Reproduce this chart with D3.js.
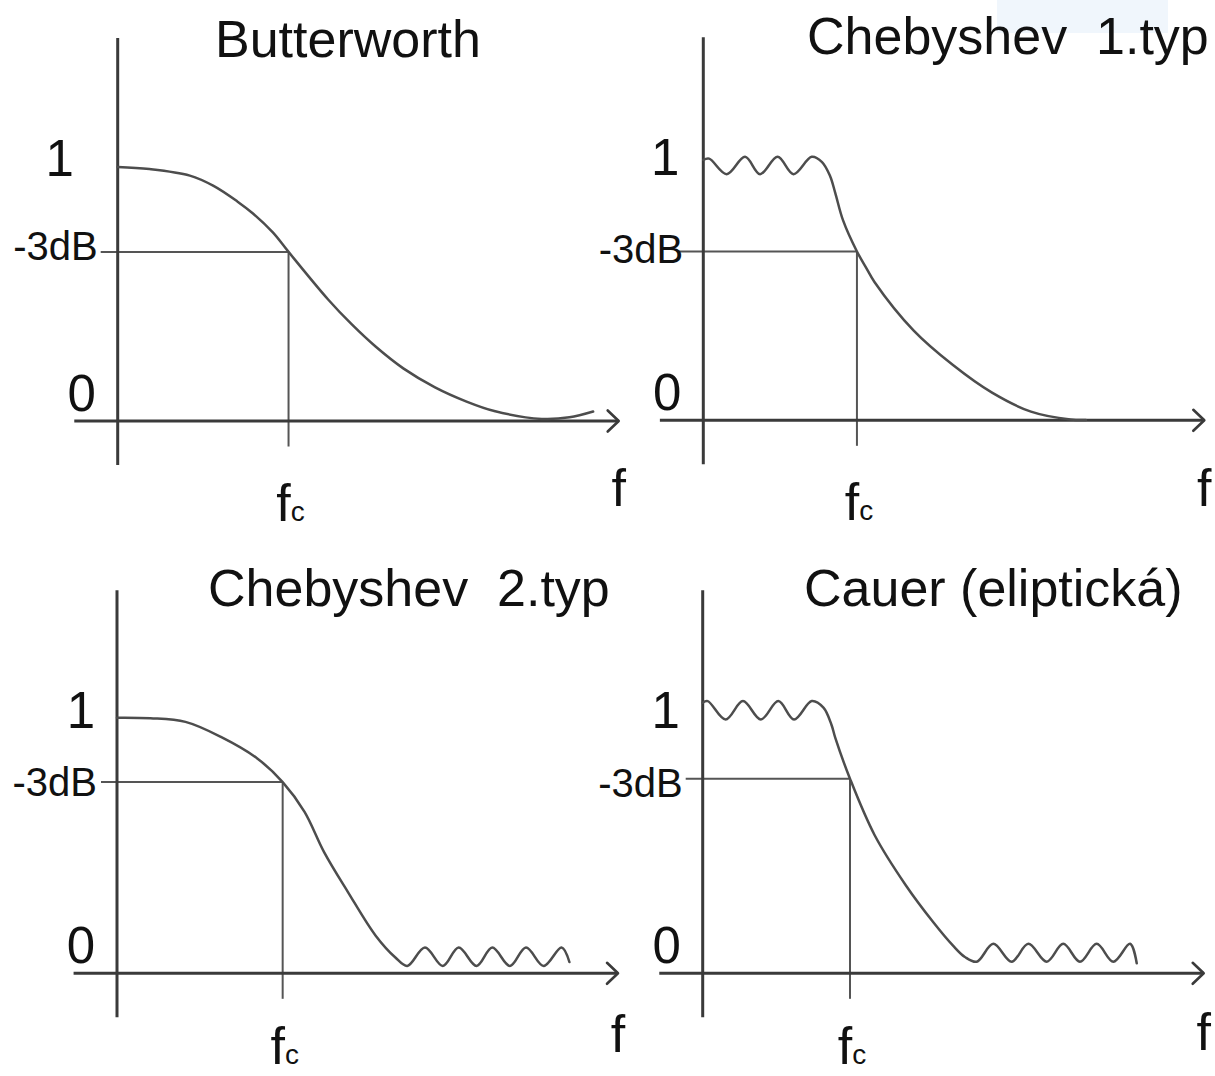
<!DOCTYPE html>
<html>
<head>
<meta charset="utf-8">
<script src="https://cdn.jsdelivr.net/npm/d3@7"></script>
<style>
  html, body { margin: 0; padding: 0; background: #fff; }
  svg { display: block; font-family: "Liberation Sans", Arial, sans-serif; }
</style>
</head>
<body>
<svg id="chart" width="1215" height="1076"></svg>
<script>
// Magnitude responses of four low-pass filter prototypes.
// f = normalised frequency, g = relative magnitude (1 = pass-band level).

const panelTitles = ["Butterworth", "Chebyshev  1.typ", "Chebyshev  2.typ", "Cauer (eliptická)"];
const levelLabels = ["1", "-3dB", "0"];
const freqAxisLabel = "f";
const cutoffLabel = ["f", "c"];

// cut-off frequency and -3 dB level of each panel
const cutoffFreq = [1.023, 0.920, 0.992, 0.882];
const halfPowerLevel = [0.643, 0.642, 0.727, 0.740];

const butterworthF = [0, 0.19, 0.432, 0.574, 0.716, 0.81, 0.929, 1.023, 1.26, 1.402, 1.544, 1.71, 1.9, 2.089, 2.255, 2.539, 2.705, 2.847];
const butterworthG = [0.966, 0.958, 0.933, 0.894, 0.835, 0.789, 0.717, 0.643, 0.462, 0.367, 0.283, 0.200, 0.128, 0.074, 0.038, 0.008, 0.014, 0.036];

const cheby1F = [0, 0.035, 0.14, 0.25, 0.34, 0.445, 0.54, 0.649, 0.711, 0.759, 0.790, 0.837, 0.920, 0.978, 1.025, 1.26, 1.495, 1.729, 1.962, 2.199, 2.291];
const cheby1G = [0.99, 0.995, 0.936, 1.002, 0.936, 1.002, 0.936, 1.002, 0.982, 0.929, 0.865, 0.760, 0.642, 0.577, 0.526, 0.341, 0.210, 0.105, 0.033, 0.003, 0.001];

const cheby2F = [0, 0.2, 0.41, 0.625, 0.838, 0.992, 1.123, 1.24, 1.383, 1.549, 1.667, 1.738, 1.844, 1.951, 2.046, 2.153, 2.247, 2.353, 2.449, 2.555, 2.662, 2.709];
const cheby2G = [0.972, 0.970, 0.956, 0.898, 0.818, 0.727, 0.614, 0.461, 0.309, 0.143, 0.060, 0.028, 0.098, 0.028, 0.098, 0.028, 0.098, 0.028, 0.098, 0.028, 0.098, 0.043];

const cauerF = [0, 0.03, 0.137, 0.241, 0.348, 0.453, 0.547, 0.653, 0.723, 0.771, 0.794, 0.882, 1.029, 1.217, 1.381, 1.499, 1.57, 1.641, 1.740, 1.850, 1.950, 2.060, 2.159, 2.259, 2.359, 2.459, 2.559, 2.599];
const cauerG = [1.029, 1.035, 0.965, 1.035, 0.965, 1.035, 0.965, 1.035, 1.010, 0.945, 0.895, 0.740, 0.526, 0.334, 0.194, 0.105, 0.062, 0.044, 0.112, 0.044, 0.112, 0.044, 0.112, 0.044, 0.112, 0.044, 0.112, 0.038];

const responses = [
  d3.zip(butterworthF, butterworthG),
  d3.zip(cheby1F, cheby1G),
  d3.zip(cheby2F, cheby2G),
  d3.zip(cauerF, cauerG)
];

// ---- layout (pixel placement of each panel) ----
const unitX = 167, unitY = 263;
const panels = [
  { ox: 117.7, oy: 421.0, titleX: 215, titleY: 57,  oneDx: -58, dbOut: 17, dbDy: 8,  fDy: 85, fcDy: 100 },
  { ox: 703.3, oy: 420.3, titleX: 807, titleY: 54,  oneDx: -38, dbOut: 25, dbDy: 12, fDy: 86, fcDy: 100 },
  { ox: 117.0, oy: 973.3, titleX: 208, titleY: 606, oneDx: -36, dbOut: 16, dbDy: 14, fDy: 79, fcDy: 91 },
  { ox: 702.7, oy: 973.3, titleX: 804, titleY: 606, oneDx: -37, dbOut: 17, dbDy: 18, fDy: 77, fcDy: 91 }
];
const axisExtent = { fMin: -0.26, fMax: 3.0, gMin: -0.167, gMax: 1.456, cutoffBottom: -0.097 };

const ink = "#111", axisColor = "#3a3a3a", curveColor = "#4d4d4d", guideColor = "#555";

const svg = d3.select("#chart");

// faint highlight box behind the top-right title
svg.append("rect")
  .attr("x", 997).attr("y", 0).attr("width", 171).attr("height", 33)
  .attr("fill", "#f0f6fc");

panels.forEach((p, i) => {
  const x = d3.scaleLinear().domain([0, 3]).range([p.ox, p.ox + 3 * unitX]);
  const y = d3.scaleLinear().domain([0, 1]).range([p.oy, p.oy - unitY]);
  const g = svg.append("g");

  // title
  g.append("text")
    .attr("x", p.titleX).attr("y", p.titleY)
    .attr("font-size", 52).attr("fill", ink)
    .style("white-space", "pre")
    .text(panelTitles[i]);

  // guide lines for the cut-off point
  const fc = cutoffFreq[i], lvl = halfPowerLevel[i];
  g.append("line")
    .attr("x1", x(0) - p.dbOut).attr("x2", x(fc))
    .attr("y1", y(lvl)).attr("y2", y(lvl))
    .attr("stroke", guideColor).attr("stroke-width", 2);
  g.append("line")
    .attr("x1", x(fc)).attr("x2", x(fc))
    .attr("y1", y(lvl)).attr("y2", y(axisExtent.cutoffBottom))
    .attr("stroke", guideColor).attr("stroke-width", 2);

  // axes
  g.append("line")
    .attr("x1", x(0)).attr("x2", x(0))
    .attr("y1", y(axisExtent.gMax)).attr("y2", y(axisExtent.gMin))
    .attr("stroke", axisColor).attr("stroke-width", 3);
  g.append("line")
    .attr("x1", x(axisExtent.fMin)).attr("x2", x(axisExtent.fMax))
    .attr("y1", y(0)).attr("y2", y(0))
    .attr("stroke", axisColor).attr("stroke-width", 3);
  const tip = x(axisExtent.fMax), y0 = y(0);
  g.append("path")
    .attr("d", `M${tip - 11},${y0 - 10.5}L${tip},${y0}L${tip - 11},${y0 + 10.5}`)
    .attr("fill", "none").attr("stroke", axisColor).attr("stroke-width", 2.6)
    .attr("stroke-linecap", "round").attr("stroke-linejoin", "round");

  // response curve
  const line = d3.line()
    .x(d => x(d[0])).y(d => y(d[1]))
    .curve(d3.curveCatmullRom.alpha(0.5));
  g.append("path")
    .attr("d", line(responses[i]))
    .attr("fill", "none").attr("stroke", curveColor).attr("stroke-width", 2.5)
    .attr("stroke-linejoin", "round").attr("stroke-linecap", "round");

  // level labels
  g.append("text")
    .attr("x", x(0) + p.oneDx).attr("y", y(1) + 18)
    .attr("text-anchor", "middle").attr("font-size", 51).attr("fill", ink)
    .text(levelLabels[0]);
  g.append("text")
    .attr("x", x(0) - 20).attr("y", y(lvl) + p.dbDy)
    .attr("text-anchor", "end").attr("font-size", 40).attr("fill", ink)
    .text(levelLabels[1]);
  g.append("text")
    .attr("x", x(0) - 36).attr("y", y(0) - 10)
    .attr("text-anchor", "middle").attr("font-size", 51).attr("fill", ink)
    .text(levelLabels[2]);

  // cut-off frequency label
  const fcText = g.append("text")
    .attr("x", x(fc) + 2).attr("y", y(0) + p.fcDy)
    .attr("text-anchor", "middle").attr("fill", ink);
  fcText.append("tspan").attr("font-size", 52).text(cutoffLabel[0]);
  fcText.append("tspan").attr("font-size", 28).text(cutoffLabel[1]);

  // frequency axis name
  g.append("text")
    .attr("x", tip).attr("y", y(0) + p.fDy)
    .attr("text-anchor", "middle").attr("font-size", 52).attr("fill", ink)
    .text(freqAxisLabel);
});
</script>
</body>
</html>
